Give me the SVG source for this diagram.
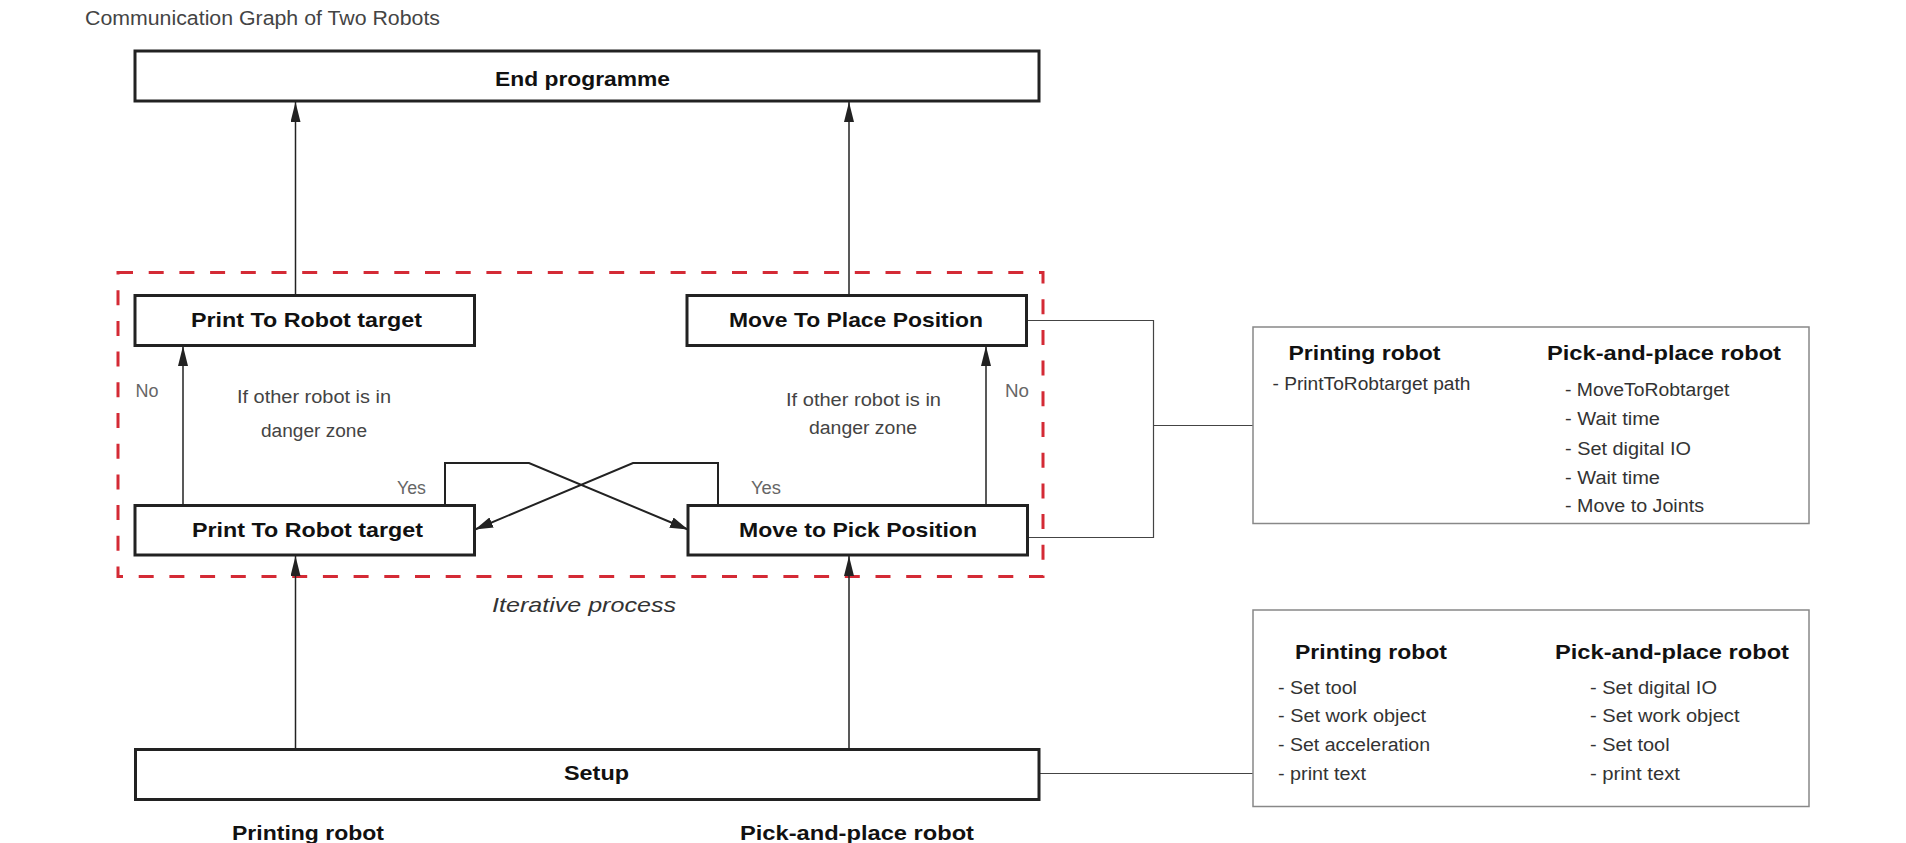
<svg xmlns="http://www.w3.org/2000/svg" width="1906" height="843" viewBox="0 0 1906 843">
<style>
.box{fill:#fff;stroke:#222;stroke-width:3}
.info{fill:#fff;stroke:#888;stroke-width:1.5}
.lbl{font-family:"Liberation Sans",Arial,sans-serif;font-weight:bold;font-size:21px;fill:#111;text-anchor:start}
.hd{font-family:"Liberation Sans",Arial,sans-serif;font-weight:bold;font-size:21px;fill:#111}
.it{font-family:"Liberation Sans",Arial,sans-serif;font-size:18px;fill:#333}
.note{font-family:"Liberation Sans",Arial,sans-serif;font-size:18px;fill:#444}
.yn{font-family:"Liberation Sans",Arial,sans-serif;font-size:18px;fill:#666}
.arr{fill:none;stroke:#222;stroke-width:1.5}
.arr2{fill:none;stroke:#222;stroke-width:2}
.ln{fill:none;stroke:#444;stroke-width:1.2}
</style>
<defs>
<marker id="ah" markerUnits="userSpaceOnUse" markerWidth="20" markerHeight="10" refX="20" refY="5" orient="auto">
<path d="M0,0 L20,5 L0,10 Z" fill="#222"/>
</marker>
<marker id="ah2" markerUnits="userSpaceOnUse" markerWidth="18" markerHeight="11" refX="18" refY="5.5" orient="auto">
<path d="M0,0 L18,5.5 L0,11 Z" fill="#222"/>
</marker>
</defs>
<rect width="1906" height="843" fill="#fff"/>
<text x="85" y="25" font-family="Liberation Sans, Arial, sans-serif" font-size="20" fill="#444" textLength="355" lengthAdjust="spacingAndGlyphs">Communication Graph of Two Robots</text>

<g id="iterative">
<rect x="118" y="272.5" width="925" height="304" fill="none" stroke="#d42a35" stroke-width="3" stroke-dasharray="15 15.7"/>
<text x="492" y="612" font-family="Liberation Sans, Arial, sans-serif" font-style="italic" font-size="21" fill="#333" textLength="184" lengthAdjust="spacingAndGlyphs">Iterative process</text>
</g>

<g id="connectors">
<path class="arr" d="M295.5,295 V102" marker-end="url(#ah)"/>
<path class="arr" d="M849,295 V102" marker-end="url(#ah)"/>
<path class="arr" d="M183,505 V346" marker-end="url(#ah)"/>
<path class="arr" d="M986,505 V346" marker-end="url(#ah)"/>
<path class="arr" d="M295.5,750 V556" marker-end="url(#ah)"/>
<path class="arr" d="M849,750 V556" marker-end="url(#ah)"/>
<path class="arr2" d="M445,505 V463 H529 L688,529.5" marker-end="url(#ah2)"/>
<path class="arr2" d="M718,505 V463 H633 L475,529.5" marker-end="url(#ah2)"/>
<path class="ln" d="M1027,320.5 H1153.5 V537.5 H1028"/>
<path class="ln" d="M1153.5,425.5 H1253"/>
<path class="ln" d="M1039,773.5 H1253"/>
</g>

<g id="end-programme">
<rect class="box" x="135" y="51" width="904" height="50"/>
<text class="lbl" x="495" y="86" textLength="175" lengthAdjust="spacingAndGlyphs">End programme</text>
</g>

<g id="print-target-top">
<rect class="box" x="135" y="295.5" width="339.5" height="50"/>
<text class="lbl" x="191" y="327" textLength="231" lengthAdjust="spacingAndGlyphs">Print To Robot target</text>
</g>

<g id="move-place">
<rect class="box" x="687" y="295.5" width="339.5" height="50"/>
<text class="lbl" x="729" y="327" textLength="254" lengthAdjust="spacingAndGlyphs">Move To Place Position</text>
</g>

<g id="print-target-bottom">
<rect class="box" x="135" y="505.5" width="339.5" height="49.5"/>
<text class="lbl" x="192" y="537" textLength="231" lengthAdjust="spacingAndGlyphs">Print To Robot target</text>
</g>

<g id="move-pick">
<rect class="box" x="688" y="505.5" width="339.5" height="49.5"/>
<text class="lbl" x="739" y="537" textLength="238" lengthAdjust="spacingAndGlyphs">Move to Pick Position</text>
</g>

<g id="setup">
<rect class="box" x="135.5" y="749.5" width="903.5" height="50"/>
<text class="lbl" x="564" y="780" textLength="65" lengthAdjust="spacingAndGlyphs">Setup</text>
</g>

<g id="labels">
<text class="yn" x="135.5" y="396.5" textLength="23" lengthAdjust="spacingAndGlyphs">No</text>
<text class="yn" x="1005" y="396.5" textLength="24" lengthAdjust="spacingAndGlyphs">No</text>
<text class="yn" x="397" y="493.5" textLength="29" lengthAdjust="spacingAndGlyphs">Yes</text>
<text class="yn" x="751" y="493.5" textLength="30" lengthAdjust="spacingAndGlyphs">Yes</text>
<text class="note" x="237" y="403" textLength="154" lengthAdjust="spacingAndGlyphs">If other robot is in</text>
<text class="note" x="261" y="436.5" textLength="106" lengthAdjust="spacingAndGlyphs">danger zone</text>
<text class="note" x="786" y="405.5" textLength="155" lengthAdjust="spacingAndGlyphs">If other robot is in</text>
<text class="note" x="809" y="434" textLength="108" lengthAdjust="spacingAndGlyphs">danger zone</text>
<text class="hd" x="232" y="840" textLength="152" lengthAdjust="spacingAndGlyphs">Printing robot</text>
<text class="hd" x="740" y="840" textLength="234" lengthAdjust="spacingAndGlyphs">Pick-and-place robot</text>
</g>

<g id="loop-info">
<rect class="info" x="1253" y="327" width="556" height="196.5"/>
<text class="hd" x="1288.5" y="360" textLength="152" lengthAdjust="spacingAndGlyphs">Printing robot</text>
<text class="hd" x="1547" y="360" textLength="234" lengthAdjust="spacingAndGlyphs">Pick-and-place robot</text>
<text class="it" x="1272.5" y="390" textLength="198" lengthAdjust="spacingAndGlyphs">- PrintToRobtarget path</text>
<text class="it" x="1565" y="396" textLength="164.5" lengthAdjust="spacingAndGlyphs">- MoveToRobtarget</text>
<text class="it" x="1565" y="425" textLength="95" lengthAdjust="spacingAndGlyphs">- Wait time</text>
<text class="it" x="1565" y="454.5" textLength="126" lengthAdjust="spacingAndGlyphs">- Set digital IO</text>
<text class="it" x="1565" y="483.5" textLength="95" lengthAdjust="spacingAndGlyphs">- Wait time</text>
<text class="it" x="1565" y="512" textLength="139" lengthAdjust="spacingAndGlyphs">- Move to Joints</text>
</g>

<g id="setup-info">
<rect class="info" x="1253" y="610" width="556" height="196.5"/>
<text class="hd" x="1295" y="659" textLength="152" lengthAdjust="spacingAndGlyphs">Printing robot</text>
<text class="hd" x="1555" y="659" textLength="234" lengthAdjust="spacingAndGlyphs">Pick-and-place robot</text>
<text class="it" x="1278" y="693.5" textLength="79" lengthAdjust="spacingAndGlyphs">- Set tool</text>
<text class="it" x="1278" y="722" textLength="148" lengthAdjust="spacingAndGlyphs">- Set work object</text>
<text class="it" x="1278" y="751" textLength="152" lengthAdjust="spacingAndGlyphs">- Set acceleration</text>
<text class="it" x="1278" y="779.5" textLength="88" lengthAdjust="spacingAndGlyphs">- print text</text>
<text class="it" x="1590" y="693.5" textLength="127" lengthAdjust="spacingAndGlyphs">- Set digital IO</text>
<text class="it" x="1590" y="722" textLength="149.5" lengthAdjust="spacingAndGlyphs">- Set work object</text>
<text class="it" x="1590" y="751" textLength="79.6" lengthAdjust="spacingAndGlyphs">- Set tool</text>
<text class="it" x="1590" y="779.5" textLength="90" lengthAdjust="spacingAndGlyphs">- print text</text>
</g>
</svg>
